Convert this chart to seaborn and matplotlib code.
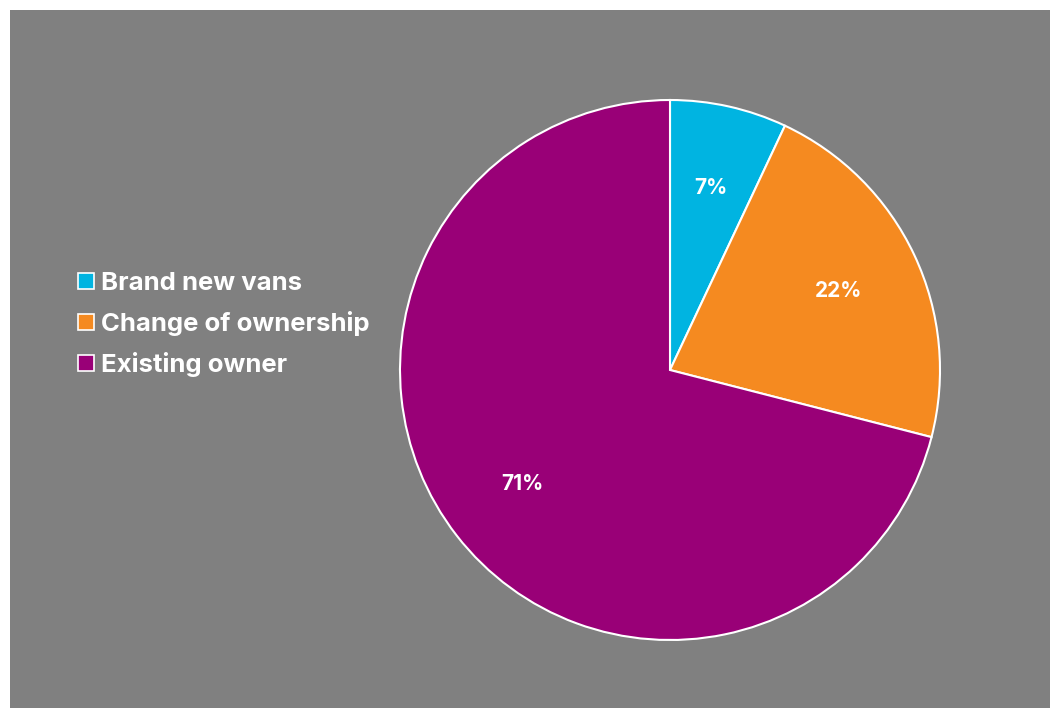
import seaborn as sns
import matplotlib.pyplot as plt
from matplotlib.lines import Line2D
import numpy as np

labels = ['Brand new vans', 'Change of ownership', 'Existing owner']
shares = [7, 22, 71]
colors = ['#00B4E1', '#F58A20', '#990077']

sns.set_style('white')
plt.rcParams['font.family'] = ['Inter', 'DejaVu Sans']

W, H = 1050, 708
fig = plt.figure(figsize=(W / 100, H / 100), dpi=100)
fig.patch.set_facecolor('white')

# grey panel
bg = fig.add_axes([10 / W, 0, 1 - 10 / W, (H - 10) / H])
bg.set_facecolor('#808080')
bg.set_xticks([])
bg.set_yticks([])
for s in bg.spines.values():
    s.set_visible(False)

# pie
cx, cy, r = 670, H - 370, 270
ax = fig.add_axes([(cx - r) / W, (cy - r) / H, 2 * r / W, 2 * r / H])
wedges, texts, autotexts = ax.pie(
    shares, colors=colors, startangle=90, counterclock=False,
    autopct='%d%%', pctdistance=0.69,
    wedgeprops=dict(edgecolor='white', linewidth=1.5),
    textprops=dict(color='white', fontsize=15, fontweight='bold'))
ax.set_xlim(-1.0, 1.0)
ax.set_ylim(-1.0, 1.0)
ax.set_aspect('equal')
for w in wedges:
    w.set_clip_on(False)
ax.axis('off')

handles = [Line2D([], [], marker='s', linestyle='', markersize=11,
                  markerfacecolor=c, markeredgecolor='white', markeredgewidth=1.2)
           for c in colors]
leg = fig.legend(handles, labels, loc='upper left', bbox_to_anchor=(50 / W, 1 - 249 / H),
                 frameon=False, handletextpad=0.1, labelspacing=0.62, handlelength=1.0,
                 prop=dict(family=['Inter', 'DejaVu Sans'], weight='bold', size=18.5))
for t in leg.get_texts():
    t.set_color('white')

fig.savefig('out.png', dpi=100)
